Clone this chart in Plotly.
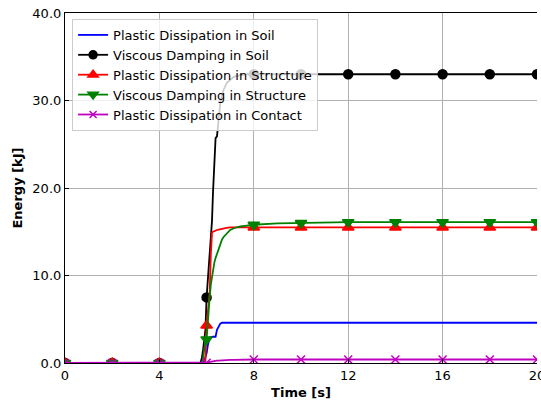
import plotly.graph_objects as go

# Sampling instants [s]
time_s = [0, 2, 4, 5.6, 5.7, 5.75, 5.8, 5.85, 5.9, 5.95, 6.0, 6.05, 6.1, 6.13, 6.18,
          6.23, 6.27, 6.33, 6.38, 6.44, 6.51, 6.58, 6.65, 6.72, 6.85, 7.0, 7.15, 7.43,
          7.7, 8, 9, 10, 11, 12, 14, 16, 18, 20]

# Energy components [kJ]
plastic_soil = [0, 0, 0, 0, 0, 0, 0, 0, 0.2, 0.6, 1.1, 2.0, 2.8, 2.9, 2.95,
                3.0, 3.0, 3.0, 3.0, 3.8, 4.2, 4.5, 4.6, 4.6, 4.6, 4.6, 4.6, 4.6,
                4.6, 4.6, 4.6, 4.6, 4.6, 4.6, 4.6, 4.6, 4.6, 4.6]
viscous_soil = [0, 0, 0, 0, 0, 0.1, 0.6, 1.5, 2.8, 3.8, 7.5, 9.5, 11.5, 13.3, 14.6,
                16.3, 19.4, 23.2, 25.7, 25.9, 27.8, 29.7, 30.6, 31.2, 32.0, 32.4, 32.7, 32.9,
                33.0, 33.0, 33.0, 33.0, 33.0, 33.0, 33.0, 33.0, 33.0, 33.0]
plastic_structure = [0, 0, 0, 0, 0, 0, 0, 0, 0.1, 0.3, 4.3, 5.5, 7.0, 8.0, 12.5,
                     14.9, 15.0, 15.1, 15.15, 15.2, 15.25, 15.3, 15.35, 15.4, 15.45, 15.5, 15.5, 15.5,
                     15.5, 15.5, 15.5, 15.5, 15.5, 15.5, 15.5, 15.5, 15.5, 15.5]
viscous_structure = [0, 0, 0, 0, 0, 0, 0, 0.5, 2.0, 2.6, 2.7, 5.0, 6.5, 7.5, 9.0,
                     9.9, 10.6, 11.5, 12.0, 12.5, 13.2, 13.7, 14.1, 14.4, 14.8, 15.2, 15.4, 15.6,
                     15.7, 15.8, 15.95, 16.0, 16.05, 16.1, 16.1, 16.1, 16.1, 16.1]
plastic_contact = [0, 0, 0, 0, 0, 0, 0, 0, 0, 0, 0.02, 0.06, 0.1, 0.12, 0.15,
                   0.18, 0.2, 0.22, 0.24, 0.26, 0.28, 0.3, 0.31, 0.32, 0.34, 0.35, 0.36, 0.38,
                   0.39, 0.4, 0.4, 0.4, 0.4, 0.4, 0.4, 0.4, 0.4, 0.4]

x_ticks = [0, 4, 8, 12, 16, 20]
y_ticks = [0, 10, 20, 30, 40]

series = [
    ("Plastic Dissipation in Soil", plastic_soil, "#0000ff", None, 0),
    ("Viscous Damping in Soil", viscous_soil, "#000000", "circle", 9),
    ("Plastic Dissipation in Structure", plastic_structure, "#ff0000", "triangle-up", 10),
    ("Viscous Damping in Structure", viscous_structure, "#008000", "triangle-down", 10),
    ("Plastic Dissipation in Contact", plastic_contact, "#bf00bf", "x-thin", 8),
]

fig = go.Figure()

for name, values, color, symbol, size in series:
    # full curve
    fig.add_trace(go.Scatter(x=time_s, y=values, mode="lines", showlegend=False,
                             line=dict(color=color, width=1.8), hoverinfo="skip"))
    # markers every 2 s
    if symbol:
        mx = [t for t in time_s if float(t).is_integer() and int(t) % 2 == 0]
        my = [v for t, v in zip(time_s, values) if float(t).is_integer() and int(t) % 2 == 0]
        fig.add_trace(go.Scatter(
            x=mx, y=my, mode="markers", showlegend=False, cliponaxis=True,
            marker=dict(symbol=symbol, size=size, color=color,
                        line=dict(color=color, width=1.5))))
    # legend entry
    fig.add_trace(go.Scatter(
        x=[None], y=[None], name=name,
        mode="lines+markers" if symbol else "lines",
        line=dict(color=color, width=1.8),
        marker=dict(symbol=symbol or "circle", size=max(size - 1, 0), color=color,
                    line=dict(color=color, width=1.5))))

axis_common = dict(
    showline=True, linecolor="black", linewidth=1.2,
    ticks="inside", ticklen=4, tickcolor="black",
    showgrid=True, gridcolor="#b0b0b0", gridwidth=1, zeroline=False,
    tickfont=dict(family="DejaVu Sans", size=13, color="black"),
    ticklabeloverflow="allow", automargin=False,
)

fig.update_layout(
    width=541, height=403,
    margin=dict(l=65, r=4, t=13, b=40),
    paper_bgcolor="white", plot_bgcolor="white",
    font=dict(family="DejaVu Sans", size=13, color="black"),
    xaxis=dict(range=[0, 20], tickvals=x_ticks, ticktext=[str(v) for v in x_ticks],
               mirror=True,
               title=dict(text="<b>Time [s]</b>", font=dict(size=13), standoff=6),
               **axis_common),
    yaxis=dict(range=[0, 40], tickvals=y_ticks, ticktext=[f"{v:.1f}" for v in y_ticks],
               mirror=False,
               title=dict(text="<b>Energy [kJ]</b>", font=dict(size=13), standoff=6),
               **axis_common),
    legend=dict(x=0.015, y=0.983, xanchor="left", yanchor="top",
                bgcolor="rgba(255,255,255,0.8)", bordercolor="#cccccc", borderwidth=1,
                font=dict(family="DejaVu Sans", size=13, color="black"),
                tracegroupgap=0, itemwidth=30),
)

fig.write_html("out.html")
